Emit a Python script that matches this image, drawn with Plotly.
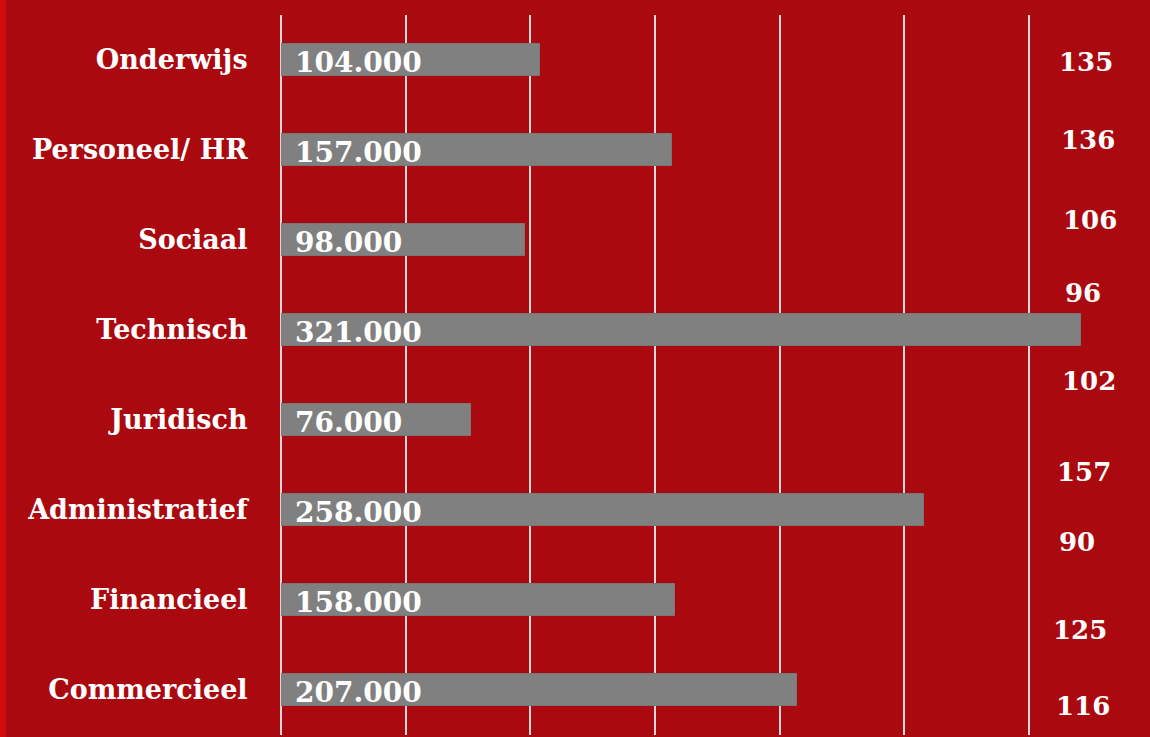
import plotly.graph_objects as go

# Sectors (top to bottom) and number of jobs
categories = ["Onderwijs", "Personeel/ HR", "Sociaal", "Technisch",
              "Juridisch", "Administratief", "Financieel", "Commercieel"]
jobs = [104000, 157000, 98000, 321000, 76000, 258000, 158000, 207000]

# Secondary figures printed in the right-hand column
side_values = [135, 136, 106, 96, 102, 157, 90, 125, 116]

BG = "#AA0910"
EDGE = "#D40A11"
BAR = "#808080"
GRID = "#D8D8D8"
FONT = "DejaVu Serif"

W, H = 1150, 737
M_L, M_T, M_B, M_R = 281, 15, 2, 0

# pixel placement of the right-hand column (layout only)
side_pos = [(1086, 62), (1088, 140), (1090, 220), (1083, 293), (1089, 381),
            (1084, 472), (1077, 542), (1080, 630), (1083, 706)]


def nl(v):
    return f"{v:,}".replace(",", ".")


fig = go.Figure(
    go.Bar(
        x=jobs,
        y=categories,
        orientation="h",
        marker=dict(color=BAR, line=dict(color="#777777", width=1)),
        width=0.345,
        hoverinfo="skip",
    )
)

annotations = []
for cat, v in zip(categories, jobs):
    annotations.append(dict(
        x=0, y=cat, xref="x", yref="y", text=f"<b>{nl(v)}</b>",
        showarrow=False, xanchor="left", yanchor="middle",
        xshift=12, yshift=-2,
        font=dict(family=FONT, size=28, color="white"),
    ))

for val, (px, py) in zip(side_values, side_pos):
    annotations.append(dict(
        x=1, y=1, xref="paper", yref="paper", text=f"<b>{val}</b>",
        showarrow=False, xanchor="center", yanchor="middle",
        xshift=px - W, yshift=-(py - M_T),
        font=dict(family=FONT, size=26, color="white"),
    ))

fig.update_layout(
    width=W, height=H,
    margin=dict(l=M_L, r=M_R, t=M_T, b=M_B, pad=0),
    paper_bgcolor=BG, plot_bgcolor=BG,
    showlegend=False,
    bargap=0,
    annotations=annotations,
    shapes=[dict(
        type="rect", xref="paper", yref="paper",
        xsizemode="pixel", xanchor=0, x0=-M_L, x1=-M_L + 6,
        ysizemode="pixel", yanchor=0, y0=-M_B - 5, y1=H,
        fillcolor=EDGE, line=dict(width=0), layer="below",
    )],
    xaxis=dict(
        range=[0, 348500], dtick=50000, tick0=0,
        showgrid=True, gridcolor=GRID, gridwidth=1.5,
        zeroline=True, zerolinecolor=GRID, zerolinewidth=1.5,
        showticklabels=False, ticks="", showline=False, fixedrange=True,
    ),
    yaxis=dict(
        categoryorder="array", categoryarray=categories[::-1],
        range=[-0.5, len(categories) - 0.5],
        showgrid=False, zeroline=False, showline=False,
        ticks="outside", ticklen=27, tickcolor="rgba(0,0,0,0)",
        tickfont=dict(family=FONT, size=27, color="white", weight="bold"),
        fixedrange=True,
    ),
)

fig.write_html("out.html")
